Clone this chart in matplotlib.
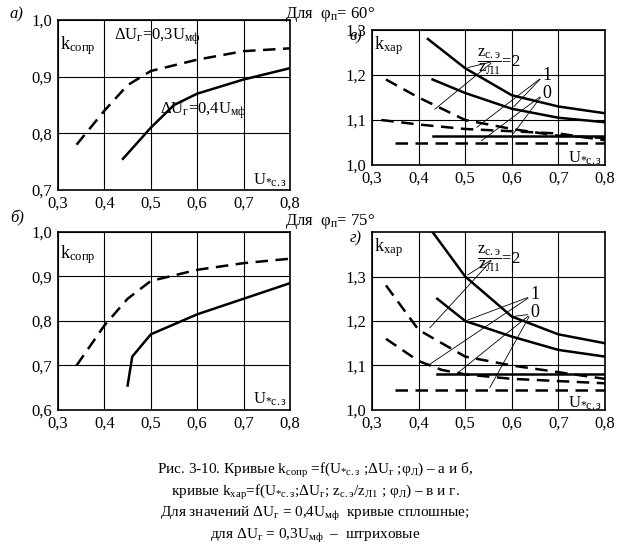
import matplotlib
matplotlib.use("Agg")
import matplotlib.pyplot as plt

plt.rcParams['font.family'] = ['Liberation Serif', 'DejaVu Serif']
plt.rcParams['mathtext.fontset'] = 'custom'
plt.rcParams['mathtext.rm'] = 'Liberation Serif'
plt.rcParams['mathtext.it'] = 'Liberation Serif:italic'
plt.rcParams['mathtext.bf'] = 'Liberation Serif:bold'

# Panel a (phi=60) k_sopr
a_dash_x = [0.34, 0.40, 0.45, 0.50, 0.60, 0.70, 0.80]
a_dash_y = [0.78, 0.84, 0.885, 0.91, 0.93, 0.945, 0.95]
a_sol_x = [0.44, 0.50, 0.55, 0.60, 0.70, 0.80]
a_sol_y = [0.755, 0.81, 0.85, 0.87, 0.895, 0.915]
# Panel b (phi=75)
b_dash_x = [0.34, 0.40, 0.45, 0.50, 0.60, 0.70, 0.80]
b_dash_y = [0.70, 0.79, 0.85, 0.89, 0.915, 0.93, 0.94]
b_sol_x = [0.45, 0.46, 0.50, 0.60, 0.70, 0.80]
b_sol_y = [0.655, 0.72, 0.77, 0.815, 0.85, 0.885]
# Panel v (phi=60) k_har
v_curves = {
    's2': ([0.42, 0.50, 0.60, 0.70, 0.80], [1.28, 1.215, 1.155, 1.13, 1.115]),
    's1': ([0.43, 0.50, 0.60, 0.70, 0.80], [1.19, 1.16, 1.125, 1.105, 1.095]),
    's0': ([0.43, 0.80], [1.065, 1.065]),
    'd2': ([0.33, 0.40, 0.50, 0.60, 0.70, 0.80], [1.19, 1.15, 1.10, 1.08, 1.065, 1.06]),
    'd1': ([0.32, 0.40, 0.50, 0.60, 0.70, 0.80], [1.10, 1.09, 1.08, 1.075, 1.07, 1.055]),
    'd0': ([0.35, 0.80], [1.05, 1.05]),
}
# Panel g (phi=75) k_har
g_curves = {
    's2': ([0.43, 0.50, 0.60, 0.70, 0.80], [1.40, 1.30, 1.21, 1.17, 1.15]),
    's1': ([0.44, 0.50, 0.60, 0.70, 0.80], [1.25, 1.20, 1.165, 1.135, 1.12]),
    's0': ([0.44, 0.80], [1.08, 1.08]),
    'd2': ([0.33, 0.40, 0.45, 0.50, 0.60, 0.70, 0.80], [1.28, 1.18, 1.15, 1.12, 1.10, 1.085, 1.07]),
    'd1': ([0.33, 0.40, 0.45, 0.50, 0.60, 0.70, 0.80], [1.16, 1.11, 1.09, 1.08, 1.07, 1.065, 1.06]),
    'd0': ([0.35, 0.80], [1.045, 1.045]),
}
xticks = [0.3, 0.4, 0.5, 0.6, 0.7, 0.8]

fig = plt.figure(figsize=(6.3, 5.6), dpi=100)
W, H = 630, 560
def ax_at(x0, y0, x1, y1):
    return fig.add_axes([x0 / W, 1 - y1 / H, (x1 - x0) / W, (y1 - y0) / H])

def fmt(v):
    return f"{v:.1f}".replace('.', ',')

def style(ax, ylim, yticks):
    ax.set_xlim(0.3, 0.8)
    ax.set_ylim(*ylim)
    ax.set_xticks(xticks)
    ax.set_xticklabels([fmt(v) for v in xticks], fontsize=12)
    ax.set_yticks(yticks)
    ax.set_yticklabels([fmt(v) for v in yticks], fontsize=12)
    ax.grid(True, color='black', lw=0.8)
    ax.tick_params(length=0, pad=4)
    for s in ax.spines.values():
        s.set_linewidth(1.2)

dash = dict(color='black', lw=1.8, ls=(0, (5, 3)))
sol = dict(color='black', lw=1.8)

ax1 = ax_at(58, 20, 290, 190)
style(ax1, (0.7, 1.0), [0.7, 0.8, 0.9, 1.0])
ax1.plot(a_dash_x, a_dash_y, **dash)
ax1.plot(a_sol_x, a_sol_y, **sol)
ax1.text(0.305, 0.975, r'k$_{\rm сопр}$', fontsize=13, va='top')
ax1.text(0.42, 0.965, r'ΔU$_{\rm г}$=0,3U$_{\rm мф}$', fontsize=12)
ax1.text(0.52, 0.835, r'ΔU$_{\rm г}$=0,4U$_{\rm мф}$', fontsize=12)
ax1.text(0.72, 0.71, r'U$_{*\rm с.з}$', fontsize=12)
fig.text(10 / W, 1 - 18 / H, 'а)', fontsize=12, style='italic')

ax2 = ax_at(58, 232, 290, 410)
style(ax2, (0.6, 1.0), [0.6, 0.7, 0.8, 0.9, 1.0])
ax2.plot(b_dash_x, b_dash_y, **dash)
ax2.plot(b_sol_x, b_sol_y, **sol)
ax2.text(0.305, 0.975, r'k$_{\rm сопр}$', fontsize=13, va='top')
ax2.text(0.72, 0.615, r'U$_{*\rm с.з}$', fontsize=12)
fig.text(10 / W, 1 - 222 / H, 'б)', fontsize=12, style='italic')

def khar(ax, curves, lab2, lab1, lab0, tgt2, tgt1, tgt0):
    for k, (x, y) in curves.items():
        ax.plot(x, y, **(sol if k[0] == 's' else dash))
    ax.text(0.305, ax.get_ylim()[1] - 0.01, r'k$_{\rm хар}$', fontsize=13, va='top')
    ax.text(0.72, 1.005, r'U$_{*\rm с.з}$', fontsize=12)
    ax.text(lab2[0], lab2[1], r'$\dfrac{\rm z_{с.э}}{\rm z_{Л1}}$=2', fontsize=12, va='center')
    ax.text(lab1[0], lab1[1], '1', fontsize=13, va='center')
    ax.text(lab0[0], lab0[1], '0', fontsize=13, va='center')
    for lab, tg in ((lab2, tgt2), (lab1, tgt1), (lab0, tgt0)):
        src = (lab[0] + (0.035 if lab is lab2 else 0.0), lab[1] - (0.0 if lab is lab2 else 0.005))
        for t in tg:
            ax.annotate('', xy=t, xytext=src,
                        arrowprops=dict(arrowstyle='-', lw=0.6, color='black'))

ax3 = ax_at(372, 30, 605, 165)
style(ax3, (1.0, 1.3), [1.0, 1.1, 1.2, 1.3])
khar(ax3, v_curves, (0.525, 1.23), (0.665, 1.2), (0.665, 1.16),
     [(0.5, 1.215), (0.43, 1.12)], [(0.6, 1.125), (0.52, 1.08)], [(0.6, 1.065), (0.53, 1.05)])

ax4 = ax_at(372, 232, 605, 410)
style(ax4, (1.0, 1.4), [1.0, 1.1, 1.2, 1.3])
khar(ax4, g_curves, (0.525, 1.34), (0.64, 1.26), (0.64, 1.22),
     [(0.5, 1.3), (0.42, 1.18)], [(0.5, 1.2), (0.42, 1.1)], [(0.6, 1.21), (0.48, 1.08), (0.55, 1.045)])

fig.text(330 / W, 1 - 5 / H, r'Для  φ$_{\rm п}$= 60°', fontsize=12, ha='center', va='top')
fig.text(330 / W, 1 - 212 / H, r'Для  φ$_{\rm п}$= 75°', fontsize=12, ha='center', va='top')
fig.text(362 / W, 1 - 40 / H, 'в)', fontsize=12, style='italic', ha='right')
fig.text(362 / W, 1 - 242 / H, 'г)', fontsize=12, style='italic', ha='right')

cap = [r'Рис. 3-10. Кривые k$_{\rm сопр}$ =f(U$_{*\rm с.з}$ ;ΔU$_{\rm г}$ ;φ$_{\rm Л}$) – а и б,',
       r'кривые k$_{\rm хар}$=f(U$_{*\rm с.з}$;ΔU$_{\rm г}$; z$_{\rm с.э}$/z$_{\rm Л1}$ ; φ$_{\rm Л}$) – в и г.',
       r'Для значений ΔU$_{\rm г}$ = 0,4U$_{\rm мф}$  кривые сплошные;',
       r'для ΔU$_{\rm г}$ = 0,3U$_{\rm мф}$  –  штриховые']
for i, c in enumerate(cap):
    fig.text(0.5, 1 - (470 + i * 22) / H, c, fontsize=11, ha='center', va='center')

fig.savefig('out.png', dpi=100)
